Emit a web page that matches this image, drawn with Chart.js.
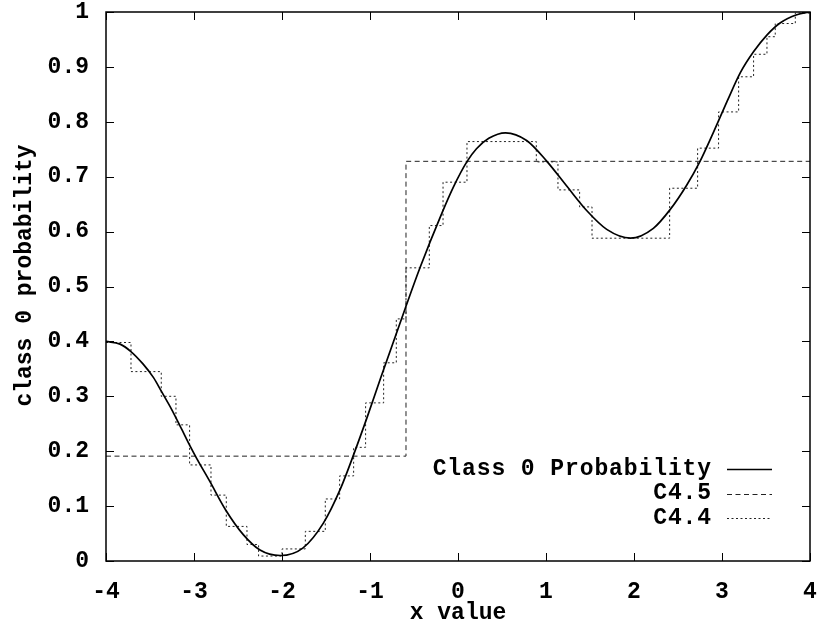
<!DOCTYPE html>
<html>
<head>
<meta charset="utf-8">
<script src="https://cdn.jsdelivr.net/npm/chart.js@4.4.0/dist/chart.umd.min.js"></script>
<style>
  html, body { margin: 0; padding: 0; background: #fff; }
  #wrap { width: 817px; height: 626px; position: relative; }
</style>
</head>
<body>
<div id="wrap"><canvas id="chart"></canvas></div>
<script>
// smooth class-0 probability curve
const curveX = [-4, -3.84, -3.72, -3.58, -3.46, -3.37, -3.25, -3.14, -3.05, -2.97, -2.82, -2.64, -2.44, -2.25, -2.02, -1.76, -1.53, -1.34, -1.19, -1.03, -0.88, -0.6, -0.43, -0.19, -0.05, 0.1, 0.21, 0.35, 0.54, 0.78, 1.01, 1.24, 1.47, 1.69, 1.96, 2.22, 2.41, 2.6, 2.75, 2.9, 3.06, 3.21, 3.36, 3.51, 3.66, 3.85, 4];
const curveY = [0.400, 0.395, 0.382, 0.359, 0.334, 0.309, 0.275, 0.240, 0.211, 0.187, 0.145, 0.093, 0.048, 0.020, 0.010, 0.024, 0.069, 0.130, 0.192, 0.263, 0.333, 0.460, 0.535, 0.631, 0.682, 0.727, 0.751, 0.770, 0.780, 0.766, 0.728, 0.682, 0.637, 0.604, 0.588, 0.606, 0.640, 0.685, 0.728, 0.780, 0.838, 0.890, 0.928, 0.958, 0.980, 0.995, 1.000];

// C4.5 tree: left edge of each leaf, last entry closes the line at x = 4
const c45X = [-4, -0.591, 4];
const c45Y = [0.191, 0.728, 0.728];

// C4.4 tree
const c44X = [-4, -3.716, -3.372, -3.205, -3.05, -2.807, -2.633, -2.398, -2.266, -2.0, -1.735, -1.508, -1.345, -1.186, -1.05, -0.845, -0.701, -0.591, -0.326, -0.170, 0.102, 0.890, 1.136, 1.382, 1.523, 2.405, 2.723, 2.961, 3.189, 3.359, 3.511, 3.605, 3.833, 4];
const c44Y = [0.398, 0.345, 0.300, 0.248, 0.175, 0.120, 0.063, 0.030, 0.009, 0.022, 0.054, 0.113, 0.155, 0.207, 0.288, 0.361, 0.441, 0.534, 0.611, 0.690, 0.764, 0.727, 0.676, 0.645, 0.588, 0.679, 0.752, 0.818, 0.882, 0.923, 0.955, 0.979, 0.998, 0.998];

const xTicks = [-4, -3, -2, -1, 0, 1, 2, 3, 4];
const yTicks = [0, 0.1, 0.2, 0.3, 0.4, 0.5, 0.6, 0.7, 0.8, 0.9, 1];
const yTickLabels = ['0', '0.1', '0.2', '0.3', '0.4', '0.5', '0.6', '0.7', '0.8', '0.9', '1'];

const seriesNames = ['Class 0 Probability', 'C4.5', 'C4.4'];
const yTitle = 'class 0 probability';

function toPoints(xs, ys) {
  return xs.map((x, i) => ({x: x, y: ys[i]}));
}

const monoFont = {family: '"Liberation Mono", "DejaVu Sans Mono", monospace', size: 23, weight: 'bold'};
const monoCss = 'bold 23px "Liberation Mono", "DejaVu Sans Mono", monospace';

// gnuplot style: full border, ticks drawn inward on all four sides
const framePlugin = {
  id: 'frame',
  afterDraw(chart) {
    const {ctx, chartArea: a} = chart;
    const xs = chart.scales.x;
    const ys = chart.scales.y;
    const len = 8;
    ctx.save();
    ctx.strokeStyle = '#000';
    ctx.lineWidth = 1;
    ctx.beginPath();
    xs.ticks.forEach((t) => {
      const px = Math.round(xs.getPixelForValue(t.value)) + 0.5;
      ctx.moveTo(px, a.bottom);
      ctx.lineTo(px, a.bottom - len);
      ctx.moveTo(px, a.top);
      ctx.lineTo(px, a.top + len);
    });
    ys.ticks.forEach((t) => {
      const py = Math.round(ys.getPixelForValue(t.value)) + 0.5;
      ctx.moveTo(a.left, py);
      ctx.lineTo(a.left + len, py);
      ctx.moveTo(a.right, py);
      ctx.lineTo(a.right - len, py);
    });
    ctx.stroke();
    ctx.lineWidth = 1.5;
    ctx.strokeRect(a.left, a.top, a.right - a.left, a.bottom - a.top);

    // y title sits a little above the middle of the axis, as gnuplot put it
    ctx.translate(25.5, (a.top + a.bottom) / 2 - 11);
    ctx.rotate(-Math.PI / 2);
    ctx.font = monoCss;
    ctx.fillStyle = '#000';
    ctx.textAlign = 'center';
    ctx.textBaseline = 'middle';
    ctx.fillText(yTitle, 0, 0);
    ctx.restore();
  }
};

// key in the lower right, text right aligned before the line sample
const keyPlugin = {
  id: 'key',
  afterDraw(chart) {
    const {ctx, chartArea: a} = chart;
    const textRight = a.right - 98;
    const lineStart = a.right - 83;
    const lineEnd = a.right - 38;
    const rows = [a.bottom - 92, a.bottom - 67.5, a.bottom - 43];
    ctx.save();
    ctx.font = monoCss;
    ctx.letterSpacing = '0.9px';
    ctx.textAlign = 'right';
    ctx.textBaseline = 'middle';
    chart.data.datasets.forEach((ds, i) => {
      const y = rows[i];
      ctx.fillStyle = '#000';
      ctx.fillText(ds.label, textRight, y);
      ctx.strokeStyle = ds.borderColor;
      ctx.lineWidth = ds.borderWidth;
      ctx.setLineDash(ds.borderDash || []);
      ctx.beginPath();
      ctx.moveTo(lineStart, Math.round(y) + 0.5);
      ctx.lineTo(lineEnd, Math.round(y) + 0.5);
      ctx.stroke();
    });
    ctx.restore();
  }
};

new Chart(document.getElementById('chart'), {
  type: 'line',
  data: {
    datasets: [
      {
        label: seriesNames[0],
        data: toPoints(curveX, curveY),
        borderColor: '#000',
        borderWidth: 1.7,
        cubicInterpolationMode: 'monotone',
        pointRadius: 0
      },
      {
        label: seriesNames[1],
        data: toPoints(c45X, c45Y),
        borderColor: '#222',
        borderWidth: 1,
        borderDash: [5, 3.5],
        stepped: 'before',
        pointRadius: 0
      },
      {
        label: seriesNames[2],
        data: toPoints(c44X, c44Y),
        borderColor: '#222',
        borderWidth: 1,
        borderDash: [2, 2.5],
        stepped: 'before',
        pointRadius: 0
      }
    ]
  },
  options: {
    responsive: true,
    maintainAspectRatio: false,
    animation: false,
    layout: {
      padding: {left: 0, right: 7, top: 12, bottom: 0}
    },
    plugins: {
      legend: {display: false},
      tooltip: {enabled: false}
    },
    scales: {
      x: {
        type: 'linear',
        min: -4,
        max: 4,
        afterBuildTicks(scale) {
          scale.ticks = xTicks.map((v) => ({value: v}));
        },
        afterFit(scale) {
          scale.height = 65;
          scale.paddingLeft = 0;
          scale.paddingRight = 0;
        },
        grid: {display: false, drawTicks: false},
        border: {display: false},
        ticks: {
          font: monoFont,
          color: '#000',
          padding: 17,
          maxRotation: 0,
          autoSkip: false,
          callback(value) {
            return String(value);
          }
        },
        title: {
          display: true,
          text: 'x value',
          font: monoFont,
          color: '#000',
          padding: {top: 0, bottom: -1}
        }
      },
      y: {
        type: 'linear',
        min: 0,
        max: 1,
        afterBuildTicks(scale) {
          scale.ticks = yTicks.map((v) => ({value: v}));
        },
        afterFit(scale) {
          scale.width = 106;
          scale.paddingTop = 0;
          scale.paddingBottom = 0;
        },
        grid: {display: false, drawTicks: false},
        border: {display: false},
        ticks: {
          font: monoFont,
          color: '#000',
          padding: 17,
          autoSkip: false,
          callback(value) {
            const i = yTicks.indexOf(value);
            return i >= 0 ? yTickLabels[i] : '';
          }
        }
      }
    }
  },
  plugins: [framePlugin, keyPlugin]
});
</script>
</body>
</html>
